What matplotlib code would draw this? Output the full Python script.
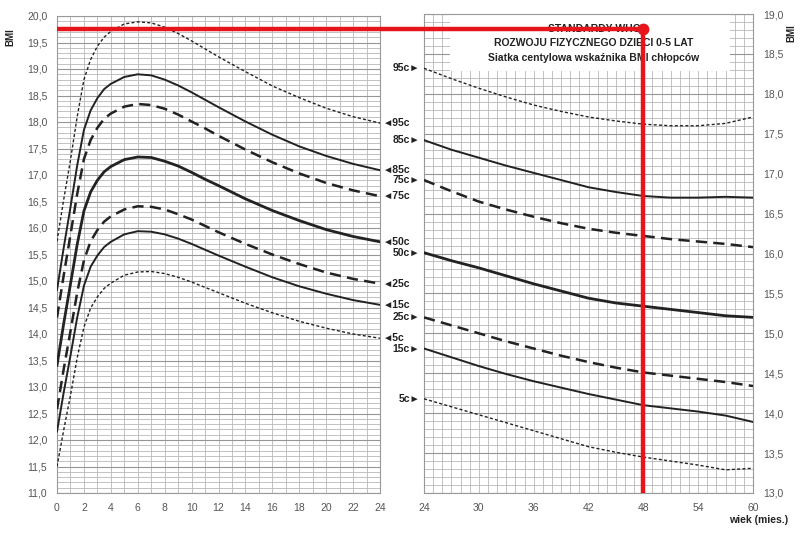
import matplotlib
matplotlib.use("Agg")
import matplotlib.pyplot as plt
from matplotlib.lines import Line2D
from matplotlib.patches import Rectangle

plt.rcParams['font.family'] = ['Liberation Sans', 'DejaVu Sans']

# --- data: WHO BMI-for-age, boys ---
age_left = [0, 0.5, 1, 1.5, 2, 2.5, 3, 3.5, 4, 5, 6, 7, 8, 9, 10, 11, 12, 14, 16, 18, 20, 22, 24]
p95_left = [15.75, 16.54, 17.28, 18.10, 18.80, 19.18, 19.43, 19.60, 19.71, 19.85, 19.89, 19.87,
            19.79, 19.67, 19.53, 19.38, 19.23, 18.95, 18.68, 18.46, 18.26, 18.10, 17.98]
p85_left = [14.83, 15.63, 16.39, 17.18, 17.85, 18.22, 18.45, 18.62, 18.72, 18.85, 18.90, 18.88,
            18.80, 18.69, 18.56, 18.42, 18.28, 18.01, 17.76, 17.54, 17.36, 17.21, 17.09]
p75_left = [14.31, 15.11, 15.87, 16.64, 17.30, 17.66, 17.89, 18.06, 18.16, 18.29, 18.34, 18.32,
            18.25, 18.14, 18.01, 17.88, 17.74, 17.48, 17.24, 17.03, 16.85, 16.71, 16.60]
p50_left = [13.41, 14.20, 14.94, 15.69, 16.32, 16.68, 16.90, 17.06, 17.16, 17.29, 17.34, 17.33,
            17.26, 17.17, 17.05, 16.92, 16.80, 16.55, 16.33, 16.14, 15.97, 15.84, 15.74]
p25_left = [12.58, 13.34, 14.05, 14.78, 15.39, 15.75, 15.96, 16.12, 16.22, 16.35, 16.41, 16.40,
            16.35, 16.26, 16.16, 16.04, 15.92, 15.70, 15.50, 15.32, 15.16, 15.04, 14.95]
p15_left = [12.16, 12.90, 13.59, 14.31, 14.91, 15.27, 15.48, 15.64, 15.74, 15.88, 15.94, 15.93,
            15.88, 15.80, 15.70, 15.59, 15.48, 15.27, 15.07, 14.90, 14.76, 14.64, 14.55]
p5_left = [11.50, 12.19, 12.84, 13.55, 14.13, 14.49, 14.70, 14.86, 14.96, 15.11, 15.17, 15.18,
           15.14, 15.07, 14.98, 14.88, 14.78, 14.58, 14.40, 14.24, 14.11, 14.00, 13.92]

age_right = [24, 27, 30, 33, 36, 39, 42, 45, 48, 51, 54, 57, 60]
p95_right = [18.32, 18.19, 18.07, 17.96, 17.86, 17.78, 17.71, 17.66, 17.62, 17.60, 17.60, 17.63, 17.71]
p85_right = [17.42, 17.30, 17.20, 17.10, 17.01, 16.92, 16.83, 16.77, 16.72, 16.70, 16.70, 16.71, 16.70]
p75_right = [16.92, 16.78, 16.65, 16.55, 16.46, 16.38, 16.31, 16.26, 16.22, 16.18, 16.15, 16.12, 16.08]
p50_right = [16.01, 15.91, 15.82, 15.72, 15.62, 15.53, 15.44, 15.38, 15.34, 15.30, 15.26, 15.22, 15.20]
p25_right = [15.20, 15.10, 15.00, 14.90, 14.81, 14.72, 14.64, 14.57, 14.51, 14.47, 14.43, 14.39, 14.34]
p15_right = [14.81, 14.70, 14.59, 14.49, 14.40, 14.32, 14.24, 14.17, 14.10, 14.06, 14.02, 13.97, 13.89]
p5_right = [14.18, 14.08, 13.98, 13.88, 13.78, 13.68, 13.58, 13.51, 13.45, 13.40, 13.35, 13.29, 13.31]

labels = ['95c', '85c', '75c', '50c', '25c', '15c', '5c']
left_series = [p95_left, p85_left, p75_left, p50_left, p25_left, p15_left, p5_left]
right_series = [p95_right, p85_right, p75_right, p50_right, p25_right, p15_right, p5_right]

# line style per centile
styles = {
    '95c': dict(lw=1.0, ls=(0, (2.2, 1.6))),
    '85c': dict(lw=1.4, ls='-'),
    '75c': dict(lw=1.8, ls=(0, (4.5, 2.5))),
    '50c': dict(lw=2.0, ls='-'),
    '25c': dict(lw=1.8, ls=(0, (4.5, 2.5))),
    '15c': dict(lw=1.4, ls='-'),
    '5c': dict(lw=1.0, ls=(0, (2.2, 1.6))),
}

marked_age = 48
marked_bmi = 19.75

fig = plt.figure(figsize=(8, 5.33), dpi=100)
W, H = 800, 533
ax1 = fig.add_axes([57 / W, 1 - 493 / H, 323 / W, 477 / H])
ax2 = fig.add_axes([424 / W, 1 - 493 / H, 329 / W, 479 / H])


def fmt(v):
    return f"{v:.1f}".replace('.', ',')


def setup(ax, x0, x1, y0, y1, xticks):
    ax.set_xlim(x0, x1)
    ax.set_ylim(y0, y1)
    ax.set_xticks(xticks)
    ax.set_xticks(range(x0, x1 + 1), minor=True)
    yt = [y0 + 0.5 * i for i in range(int((y1 - y0) / 0.5) + 1)]
    ax.set_yticks(yt)
    ax.set_yticklabels([fmt(v) for v in yt])
    ax.set_yticks([y0 + 0.1 * i for i in range(int(round((y1 - y0) / 0.1)) + 1)], minor=True)
    ax.grid(which='minor', color='#b8b8b8', lw=0.6)
    ax.grid(which='major', axis='x', color='#b8b8b8', lw=0.6)
    ax.grid(which='major', axis='y', color='#959595', lw=0.8)
    ax.set_axisbelow(True)
    ax.tick_params(which='both', length=0, labelsize=7.5, labelcolor='#555555', pad=7)
    for s in ax.spines.values():
        s.set_color('#999999')
        s.set_linewidth(0.8)


setup(ax1, 0, 24, 11.0, 20.0, list(range(0, 25, 2)))
setup(ax2, 24, 60, 13.0, 19.0, list(range(24, 61, 6)))
ax2.yaxis.tick_right()

for lab, ys in zip(labels, left_series):
    ax1.plot(age_left, ys, color='#222222', zorder=3, **styles[lab])
    ax1.text(24.2, ys[-1], '◄' + lab, fontsize=7.5, fontweight='bold', ha='left', va='center',
             color='#222222', clip_on=False)

for lab, ys in zip(labels, right_series):
    ax2.plot(age_right, ys, color='#222222', zorder=3, **styles[lab])
    ax2.text(23.6, ys[0], lab + '►', fontsize=7.5, fontweight='bold', ha='right', va='center',
             color='#222222', clip_on=False)

# white title box on the right grid
ax2.add_patch(Rectangle((26.8, 18.28), 30.7, 0.8, facecolor='white', edgecolor='none', zorder=2))
fig.text(594 / W, 1 - 29 / H, 'STANDARDY WHO', fontsize=7.5, fontweight='bold',
         ha='center', va='center', color='#222222')
fig.text(594 / W, 1 - 43 / H, 'ROZWOJU FIZYCZNEGO DZIECI 0-5 LAT', fontsize=7.5,
         fontweight='bold', ha='center', va='center', color='#222222')
fig.text(594 / W, 1 - 58 / H, 'Siatka centylowa wskaźnika BMI chłopców', fontsize=7.5,
         fontweight='bold', ha='center', va='center', color='#222222')

fig.text(10 / W, 1 - 37 / H, 'BMI', rotation=90, fontsize=7, fontweight='bold',
         ha='center', va='center', color='#222222')
fig.text(791 / W, 1 - 33 / H, 'BMI', rotation=90, fontsize=7, fontweight='bold',
         ha='center', va='center', color='#222222')
fig.text(759 / W, 1 - 520 / H, 'wiek (mies.)', fontsize=7.5, fontweight='bold',
         ha='center', va='center', color='#222222')

# red marker lines
to_fig = fig.transFigure.inverted()
xs, ys0 = to_fig.transform(ax1.transData.transform((0, marked_bmi)))
xc, yb = to_fig.transform(ax2.transData.transform((marked_age, 13.0)))
red = '#e8141b'
fig.add_artist(Line2D([xs, xc], [ys0, ys0], color=red, lw=3.2, solid_capstyle='butt', zorder=10))
fig.add_artist(Line2D([xc, xc], [ys0, yb], color=red, lw=3.2, solid_capstyle='butt', zorder=10))
fig.add_artist(Line2D([xc], [ys0], marker='o', ms=7.5, color=red, zorder=11))

fig.savefig('out.png', dpi=100)
